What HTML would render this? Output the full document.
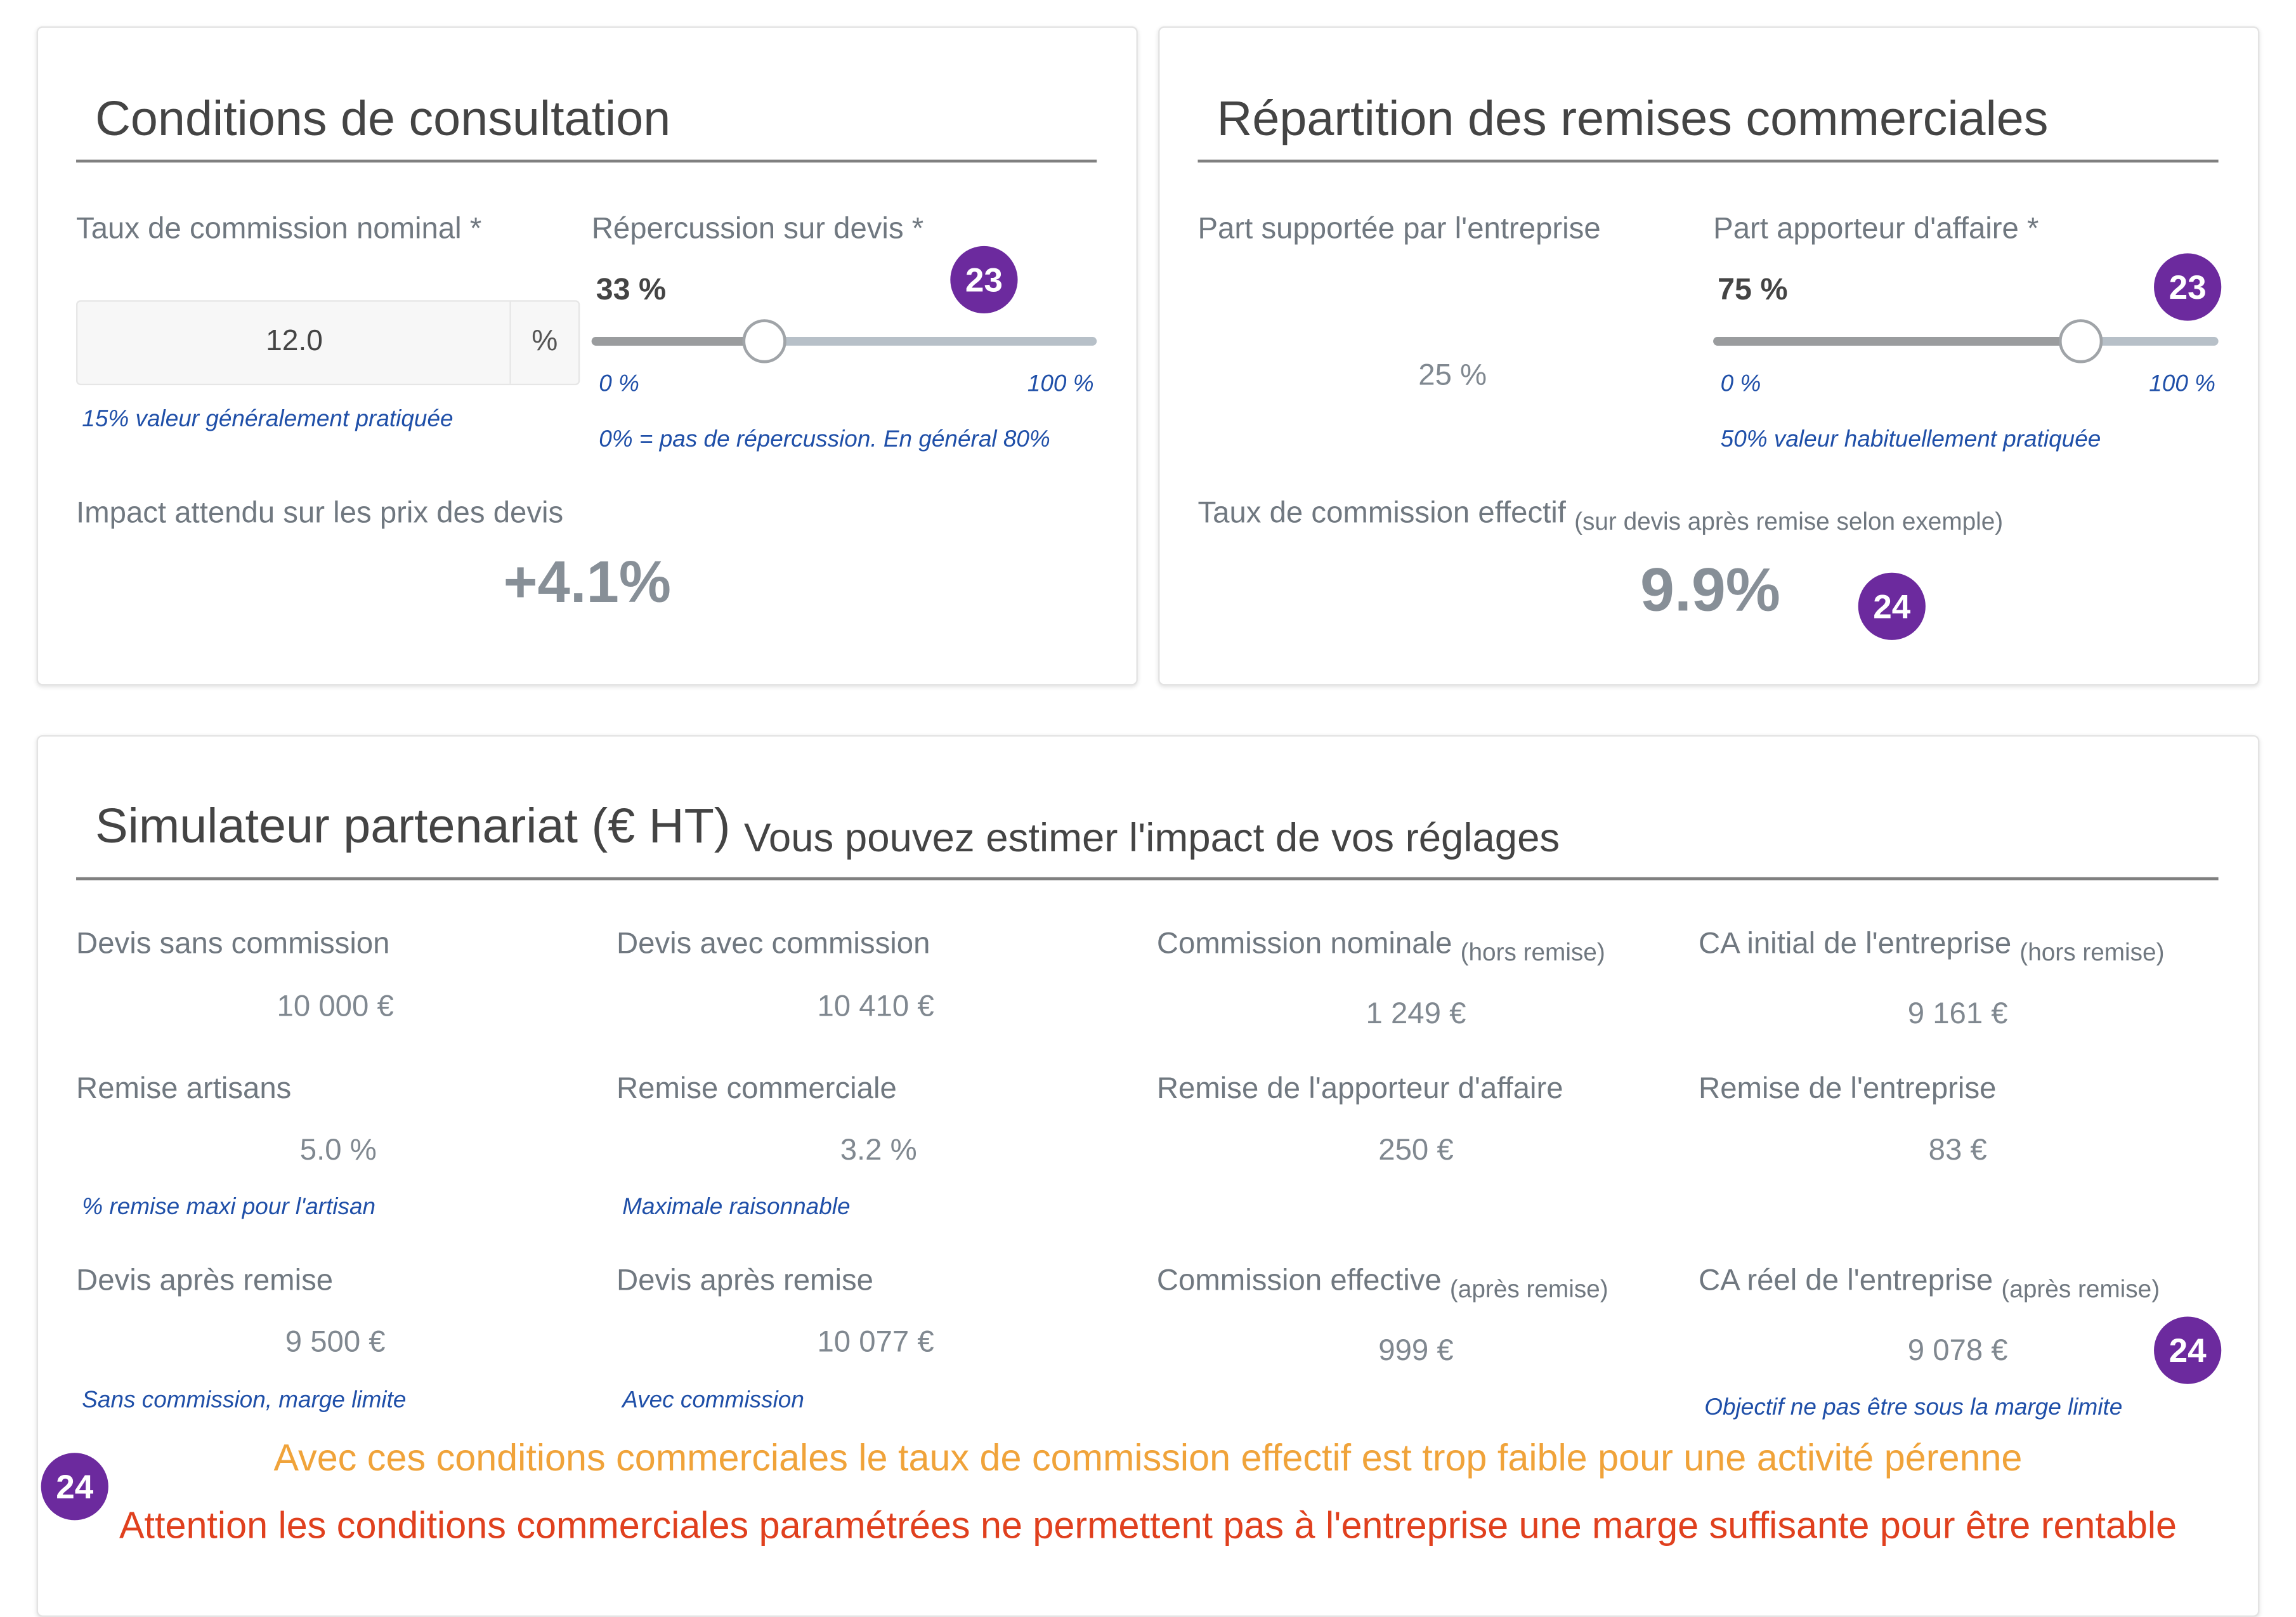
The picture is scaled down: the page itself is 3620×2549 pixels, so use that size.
<!DOCTYPE html>
<html><head><meta charset="utf-8"><style>
html,body{margin:0;padding:0;background:#fff;width:3620px;height:2475px;overflow:hidden}
#w{position:absolute;left:0;top:0;width:1568px;height:1072px;transform:scale(2.30867);transform-origin:0 0;font-family:"Liberation Sans",sans-serif}
.card{position:absolute;background:#fff;border:1px solid #e3e3e3;border-radius:4px;box-shadow:0 1px 3px rgba(0,0,0,.12)}
.t{position:absolute;white-space:nowrap;transform:translateY(-50%);line-height:1}
.c{position:absolute;white-space:nowrap;transform:translate(-50%,-50%);line-height:1}
.r{position:absolute;white-space:nowrap;transform:translate(-100%,-50%);line-height:1}
.ti{font-size:33.5px;color:#444}
.lb{font-size:20.5px;color:#707880}
.sm{font-size:16.8px;color:#707880}
.v{font-size:20.5px;color:#808890}
.h{font-size:16px;color:#1f4fa8;font-style:italic}
.hr{position:absolute;height:2px;background:#808080}
.b{position:absolute;width:46px;height:46px;border-radius:50%;background:#6c2a9e;color:#fff;font-weight:bold;font-size:23px;display:flex;align-items:center;justify-content:center;transform:translate(-50%,-50%)}
.tr{position:absolute;height:6px;border-radius:3px;transform:translateY(-50%)}
.th{position:absolute;border-radius:50%;background:#fff;border:2px solid #a0a4a8;transform:translate(-50%,-50%);box-sizing:border-box;width:30px;height:30px}
</style></head><body><div id="w">
<div class="card" style="left:25px;top:18px;width:750px;height:448px"></div>
<div class="card" style="left:791px;top:18px;width:750px;height:448px"></div>
<div class="card" style="left:25px;top:502px;width:1516px;height:600px"></div>

<div class="t ti" style="left:65px;top:82px">Conditions de consultation</div>
<div class="hr" style="left:52px;top:109px;width:697px"></div>
<div class="t lb" style="left:52px;top:157px">Taux de commission nominal *</div>
<div class="t lb" style="left:404px;top:157px">Répercussion sur devis *</div>
<div style="position:absolute;left:52px;top:205px;width:344px;height:58px;background:#f7f7f7;border:1px solid #e6e6e6;border-radius:3px;box-sizing:border-box"></div>
<div style="position:absolute;left:348px;top:206px;width:1px;height:56px;background:#e6e6e6"></div>
<div class="c" style="left:201px;top:233px;font-size:20px;color:#444">12.0</div>
<div class="c" style="left:372px;top:233px;font-size:20px;color:#555">%</div>
<div class="t" style="left:407px;top:198px;font-size:21px;font-weight:bold;color:#444">33 %</div>
<div class="b" style="left:672px;top:191px">23</div>
<div class="tr" style="left:404px;top:233px;width:345px;background:#b7c0c8"></div>
<div class="tr" style="left:404px;top:233px;width:118px;background:#9a9c9e"></div>
<div class="th" style="left:522px;top:233px"></div>
<div class="t h" style="left:409px;top:263px">0 %</div>
<div class="r h" style="left:747px;top:263px">100 %</div>
<div class="t h" style="left:56px;top:287px">15% valeur généralement pratiquée</div>
<div class="t h" style="left:409px;top:301px">0% = pas de répercussion. En général 80%</div>
<div class="t lb" style="left:52px;top:351px">Impact attendu sur les prix des devis</div>
<div class="c" style="left:401px;top:398px;font-size:40px;font-weight:bold;color:#878f97">+4.1%</div>

<div class="t ti" style="left:831px;top:82px">Répartition des remises commerciales</div>
<div class="hr" style="left:818px;top:109px;width:697px"></div>
<div class="t lb" style="left:818px;top:157px">Part supportée par l'entreprise</div>
<div class="t lb" style="left:1170px;top:157px">Part apporteur d'affaire *</div>
<div class="t" style="left:1173px;top:198px;font-size:21px;font-weight:bold;color:#444">75 %</div>
<div class="b" style="left:1494px;top:196px">23</div>
<div class="tr" style="left:1170px;top:233px;width:345px;background:#b7c0c8"></div>
<div class="tr" style="left:1170px;top:233px;width:251px;background:#9a9c9e"></div>
<div class="th" style="left:1421px;top:233px"></div>
<div class="t h" style="left:1175px;top:263px">0 %</div>
<div class="r h" style="left:1513px;top:263px">100 %</div>
<div class="c v" style="left:992px;top:257px">25 %</div>
<div class="t h" style="left:1175px;top:301px">50% valeur habituellement pratiquée</div>
<div class="t lb" style="left:818px;top:351px">Taux de commission effectif <span class="sm" style="position:relative;top:5px">(sur devis après remise selon exemple)</span></div>
<div class="c" style="left:1168px;top:403px;font-size:42px;font-weight:bold;color:#878f97">9.9%</div>
<div class="b" style="left:1292px;top:414px">24</div>

<div class="t ti" style="left:65px;top:565px">Simulateur partenariat (€ HT) <span style="font-size:27.5px;position:relative;top:6px">Vous pouvez estimer l'impact de vos réglages</span></div>
<div class="hr" style="left:52px;top:599px;width:1463px"></div>

<div class="t lb" style="left:52px;top:645px">Devis sans commission</div>
<div class="t lb" style="left:421px;top:645px">Devis avec commission</div>
<div class="t lb" style="left:790px;top:645px">Commission nominale <span class="sm" style="position:relative;top:5px">(hors remise)</span></div>
<div class="t lb" style="left:1160px;top:645px">CA initial de l'entreprise <span class="sm" style="position:relative;top:5px">(hors remise)</span></div>
<div class="c v" style="left:229px;top:688px">10 000 €</div>
<div class="c v" style="left:598px;top:688px">10 410 €</div>
<div class="c v" style="left:967px;top:693px">1 249 €</div>
<div class="c v" style="left:1337px;top:693px">9 161 €</div>

<div class="t lb" style="left:52px;top:744px">Remise artisans</div>
<div class="t lb" style="left:421px;top:744px">Remise commerciale</div>
<div class="t lb" style="left:790px;top:744px">Remise de l'apporteur d'affaire</div>
<div class="t lb" style="left:1160px;top:744px">Remise de l'entreprise</div>
<div class="c v" style="left:231px;top:786px">5.0 %</div>
<div class="c v" style="left:600px;top:786px">3.2 %</div>
<div class="c v" style="left:967px;top:786px">250 €</div>
<div class="c v" style="left:1337px;top:786px">83 €</div>
<div class="t h" style="left:56px;top:825px">% remise maxi pour l'artisan</div>
<div class="t h" style="left:425px;top:825px">Maximale raisonnable</div>

<div class="t lb" style="left:52px;top:875px">Devis après remise</div>
<div class="t lb" style="left:421px;top:875px">Devis après remise</div>
<div class="t lb" style="left:790px;top:875px">Commission effective <span class="sm" style="position:relative;top:5px">(après remise)</span></div>
<div class="t lb" style="left:1160px;top:875px">CA réel de l'entreprise <span class="sm" style="position:relative;top:5px">(après remise)</span></div>
<div class="c v" style="left:229px;top:917px">9 500 €</div>
<div class="c v" style="left:598px;top:917px">10 077 €</div>
<div class="c v" style="left:967px;top:923px">999 €</div>
<div class="c v" style="left:1337px;top:923px">9 078 €</div>
<div class="b" style="left:1494px;top:922px">24</div>
<div class="t h" style="left:56px;top:957px">Sans commission, marge limite</div>
<div class="t h" style="left:425px;top:957px">Avec commission</div>
<div class="t h" style="left:1164px;top:962px">Objectif ne pas être sous la marge limite</div>

<div class="c" style="left:784px;top:997px;font-size:25.7px;color:#f0a33a">Avec ces conditions commerciales le taux de commission effectif est trop faible pour une activité pérenne</div>
<div class="b" style="left:51px;top:1015px">24</div>
<div class="c" style="left:784px;top:1043px;font-size:25.7px;color:#e0401e">Attention les conditions commerciales paramétrées ne permettent pas à l'entreprise une marge suffisante pour être rentable</div>
</div></body></html>
